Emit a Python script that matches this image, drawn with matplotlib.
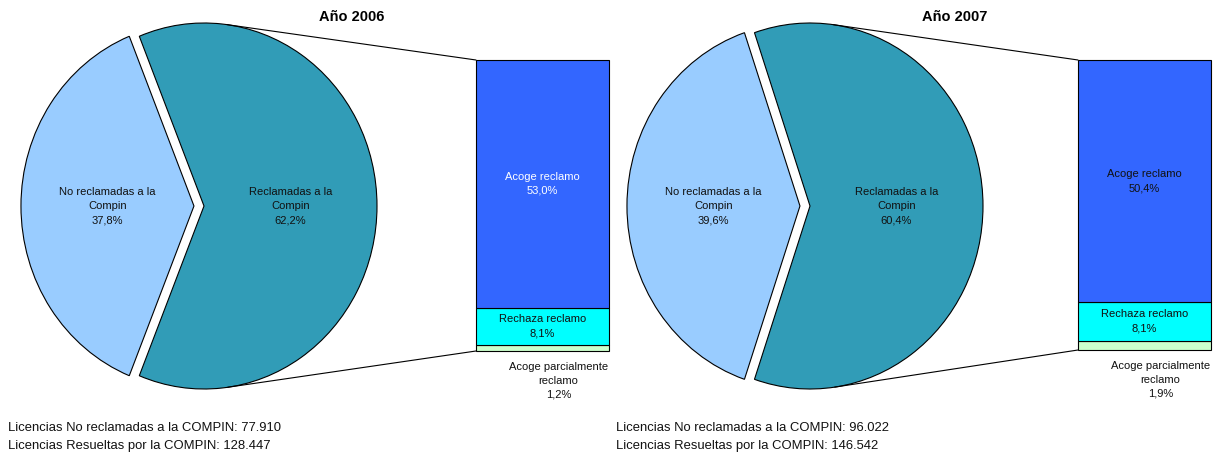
import matplotlib
matplotlib.use("Agg")
import matplotlib.pyplot as plt
import matplotlib.transforms as mtrans
import numpy as np
from matplotlib.patches import ConnectionPatch

plt.rcParams['font.family'] = ['Liberation Sans', 'DejaVu Sans']

# ---- data ----
years = ['Año 2006', 'Año 2007']
pie_labels = ['No reclamadas a la\nCompin', 'Reclamadas a la\nCompin']
pie_2006 = [37.8, 62.2]
pie_2007 = [39.6, 60.4]
bar_labels = ['Acoge reclamo', 'Rechaza reclamo', 'Acoge parcialmente\nreclamo']
bar_2006 = [53.0, 8.1, 1.2]
bar_2007 = [50.4, 8.1, 1.9]
no_reclamadas = ['77.910', '96.022']
resueltas = ['128.447', '146.542']

pie_colors = ['#99CCFF', '#319CB7']
bar_colors = ['#3366FF', '#00FFFF', '#CCFFCC']
acoge_text_colors = ['white', '#111111']

W, H = 1214, 454
fig = plt.figure(figsize=(W / 100, H / 100), dpi=100)

def fbox(x0, y0, x1, y1):
    # pixel box (y from top) -> figure fraction rect
    return [x0 / W, 1 - y1 / H, (x1 - x0) / W, (y1 - y0) / H]

def fmt(v):
    return f"{v:.1f}".replace('.', ',') + '%'

layouts = [
    dict(cx=204, cy=206, bar=(476, 60, 609, 351), title=(352, 17), foot=8),
    dict(cx=810, cy=206, bar=(1078, 60, 1211, 350), title=(955, 17), foot=616),
]
rx, ry = 173, 183
lim = 1.15
explode_frac = 0.058
FS = 8.0
LS = 1.55

for i, (pie_vals, bar_vals) in enumerate([(pie_2006, bar_2006), (pie_2007, bar_2007)]):
    L = layouts[i]
    cx, cy = L['cx'], L['cy']
    axp = fig.add_axes(fbox(cx - lim * rx, cy - lim * ry, cx + lim * rx, cy + lim * ry))
    start = 180 - 360 * pie_vals[0] / sum(pie_vals) / 2
    wedges, texts = axp.pie(pie_vals, labels=[f"{l}\n{fmt(v)}" for l, v in zip(pie_labels, pie_vals)],
                            colors=pie_colors, startangle=start, counterclock=True,
                            explode=[explode_frac, 0], labeldistance=0.5,
                            wedgeprops=dict(edgecolor='black', linewidth=0.8),
                            textprops=dict(fontsize=FS, color='#111111'))
    for t in texts:
        t.set_horizontalalignment('center')
        t.set_verticalalignment('center')
        t.set_linespacing(LS)
    axp.set_aspect('auto')
    axp.set_xlim(-lim, lim)
    axp.set_ylim(-lim, lim)
    axp.axis('off')

    bx0, by0, bx1, by1 = L['bar']
    axb = fig.add_axes(fbox(bx0, by0, bx1, by1))
    total = sum(bar_vals)
    order = [2, 1, 0]  # bottom to top
    bottom = 0
    centers = {}
    for k in order:
        bc = axb.bar(0, bar_vals[k], bottom=bottom, width=1.0, color=bar_colors[k],
                     edgecolor='black', linewidth=0.8)
        for p in bc:
            p.set_clip_on(False)
        centers[k] = bottom + bar_vals[k] / 2
        bottom += bar_vals[k]
    axb.set_xlim(-0.5, 0.5)
    axb.set_ylim(0, total)
    axb.axis('off')
    axb.text(0, centers[0], f"{bar_labels[0]}\n{fmt(bar_vals[0])}", ha='center', va='center',
             fontsize=FS, color=acoge_text_colors[i], linespacing=LS)
    axb.text(0, centers[1], f"{bar_labels[1]}\n{fmt(bar_vals[1])}", ha='center', va='center',
             fontsize=FS, color='#111111', linespacing=LS)
    axb.text(0.12, 0, f"{bar_labels[2]}\n{fmt(bar_vals[2])}", ha='center', va='top',
             fontsize=FS, color='#111111', linespacing=1.45,
             transform=axb.transData + mtrans.ScaledTranslation(0, -11 / 100, fig.dpi_scale_trans))

    # connector lines tangent to the pie
    to_pie = axp.transData.inverted()
    for (yb, sign) in [(total, 1), (0, -1)]:
        disp = axb.transData.transform((-0.5, yb))
        u, v = to_pie.transform(disp)
        r = np.hypot(u, v)
        phi = np.arctan2(v, u)
        ang = phi + sign * np.arccos(1 / r)
        con = ConnectionPatch(xyA=(np.cos(ang), np.sin(ang)), coordsA=axp.transData,
                              xyB=(-0.5, yb), coordsB=axb.transData,
                              color='black', linewidth=0.8)
        fig.add_artist(con)

    tx, ty = L['title']
    fig.text(tx / W, 1 - ty / H, years[i], ha='center', va='center', fontsize=10.5, fontweight='bold')
    fig.text(L['foot'] / W, 1 - 428 / H, f"Licencias No reclamadas a la COMPIN: {no_reclamadas[i]}",
             ha='left', va='center', fontsize=9.4, color='#111111')
    fig.text(L['foot'] / W, 1 - 446 / H, f"Licencias Resueltas por la COMPIN: {resueltas[i]}",
             ha='left', va='center', fontsize=9.4, color='#111111')

fig.savefig('out.png', dpi=100, facecolor='white')
